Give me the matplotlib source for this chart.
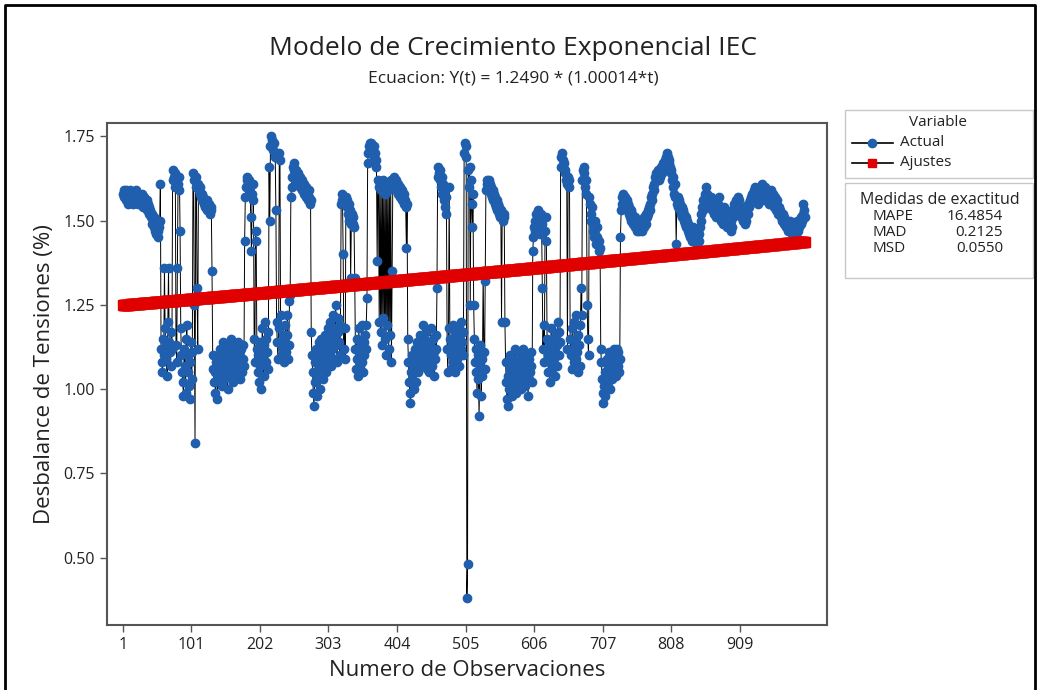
import matplotlib.pyplot as plt
import numpy as np
from matplotlib.lines import Line2D
from matplotlib.patches import Rectangle

# Voltage unbalance readings (%), in observation order
obs_001_055 = [1.58, 1.59, 1.57, 1.58, 1.56, 1.59, 1.58, 1.57, 1.55, 1.58, 1.57, 1.59, 1.56, 1.58, 1.57,
               1.55, 1.58, 1.56, 1.57, 1.59, 1.58, 1.56, 1.55, 1.57, 1.58, 1.56, 1.57, 1.55, 1.58, 1.56,
               1.54, 1.57, 1.55, 1.56, 1.54, 1.56, 1.53, 1.55, 1.54, 1.52,
               1.53, 1.51, 1.52, 1.49, 1.50, 1.48, 1.51, 1.47, 1.49, 1.46, 1.50, 1.47, 1.45, 1.48, 1.50]
obs_056_103 = [1.61, 1.12, 1.08, 1.05, 1.15, 1.10, 1.36, 1.18, 1.13, 1.09, 1.04, 1.20, 1.36, 1.14, 1.11,
               1.07, 1.17, 1.12,
               1.62, 1.65, 1.63, 1.60, 1.64, 1.13, 1.08, 1.36, 1.61, 1.59, 1.63, 1.47, 1.18, 1.10, 1.05,
               1.02, 0.98, 1.12, 1.07, 0.99, 1.15, 1.19, 1.05, 1.10, 1.01, 0.97, 1.08, 1.14, 1.03, 1.11]
obs_104_179 = [1.64, 1.62, 1.25, 0.84, 1.63, 1.60, 1.30, 1.12, 1.61, 1.59, 1.60, 1.58, 1.57, 1.58, 1.56,
               1.57, 1.55, 1.56, 1.54, 1.55, 1.53, 1.56, 1.54, 1.53, 1.55, 1.52, 1.54, 1.53, 1.35, 1.10,
               1.06, 1.02,
               1.05, 0.99, 1.08, 1.03, 0.97, 1.06, 1.10, 1.04, 1.12, 1.07, 1.01, 1.09, 1.14, 1.06, 1.03,
               1.11, 1.08, 1.13, 1.05, 1.00, 1.07, 1.12, 1.09, 1.04, 1.15, 1.10, 1.06, 1.02, 1.08, 1.13,
               1.07, 1.11, 1.04, 1.09, 1.14, 1.06, 1.10, 1.03, 1.08, 1.12, 1.05, 1.09, 1.13, 1.07]
obs_180_247 = [1.44, 1.57, 1.60, 1.62, 1.63, 1.61, 1.59, 1.62, 1.60, 1.51, 1.41, 1.58, 1.61, 1.56, 1.15,
               1.08, 1.47, 1.44, 1.12,
               1.05, 1.10, 1.02, 1.14, 1.07, 1.00, 1.11, 1.18, 1.09, 1.04, 1.13, 1.20, 1.08, 1.15, 1.11,
               1.06, 1.17,
               1.66, 1.50, 1.72, 1.75, 1.74, 1.72, 1.71, 1.73, 1.70, 1.69, 1.53, 1.20, 1.14, 1.09, 1.18,
               1.70, 1.68, 1.13, 1.22, 1.10, 1.16, 1.12,
               1.08, 1.14, 1.19, 1.11, 1.16, 1.22, 1.09, 1.13, 1.26, 1.28]
obs_248_321 = [1.57, 1.60, 1.63, 1.66, 1.65, 1.67, 1.64, 1.62, 1.65, 1.63, 1.61, 1.64, 1.62, 1.60, 1.63,
               1.61, 1.59, 1.62, 1.60, 1.58, 1.61, 1.59, 1.57, 1.60, 1.58, 1.56, 1.59, 1.57, 1.55, 1.56,
               1.17, 1.10, 1.05, 0.99, 0.95, 1.02, 1.08, 1.12, 0.98, 1.04, 1.09, 1.14, 1.06, 1.00, 1.11,
               1.15, 1.07, 1.03, 1.12, 1.08, 1.16, 1.10, 1.05, 1.13, 1.18, 1.09, 1.14, 1.20, 1.11, 1.07,
               1.16, 1.12, 1.22, 1.15, 1.09, 1.18, 1.25, 1.13, 1.08, 1.17, 1.21, 1.14, 1.10, 1.19]
obs_322_397 = [1.55, 1.58, 1.56, 1.40, 1.12, 1.18, 1.09, 1.57, 1.54, 1.56, 1.52, 1.55, 1.50, 1.53, 1.33,
               1.49, 1.52, 1.51, 1.49, 1.48, 1.33,
               1.12, 1.06, 1.15, 1.09, 1.04, 1.18, 1.11, 1.07, 1.13, 1.19, 1.08, 1.05, 1.14, 1.10, 1.16,
               1.12, 1.19, 1.27,
               1.67, 1.70, 1.72, 1.73, 1.71, 1.73, 1.72, 1.70, 1.71, 1.69, 1.72, 1.70, 1.68, 1.66, 1.38,
               1.62,
               1.60, 1.20, 1.61, 1.17, 1.59, 1.13, 1.62, 1.21, 1.60, 1.15, 1.58, 1.10, 1.61, 1.19, 1.59,
               1.12, 1.60, 1.16, 1.62, 1.08, 1.35]
obs_398_463 = [1.60, 1.62, 1.63, 1.61, 1.59, 1.62, 1.60, 1.58, 1.61, 1.59, 1.57, 1.60, 1.58, 1.56, 1.59,
               1.57, 1.55, 1.58, 1.56, 1.54, 1.42, 1.55,
               1.15, 1.08, 1.02, 0.99, 0.96, 1.05, 1.10, 1.03, 1.07, 1.00, 1.12, 1.06, 1.02, 1.09, 1.14,
               1.05, 1.11, 1.08, 1.16, 1.12, 1.07, 1.13, 1.19, 1.10, 1.15, 1.08, 1.12, 1.17, 1.11, 1.06,
               1.14, 1.09, 1.05, 1.13, 1.18, 1.10, 1.07, 1.15, 1.11, 1.04, 1.09, 1.16, 1.12, 1.30]
obs_464_534 = [1.63, 1.66, 1.64, 1.65, 1.62, 1.60, 1.63, 1.58, 1.61, 1.56, 1.59, 1.54, 1.57, 1.52, 1.12,
               1.05, 1.18, 1.60, 1.15,
               1.10, 1.06, 1.14, 1.19, 1.08, 1.12, 1.17, 1.05, 1.11, 1.15, 1.09, 1.13, 1.18, 1.07, 1.16,
               1.12, 1.20, 1.14, 1.10, 1.17,
               1.70, 1.73, 1.72, 1.69, 0.38, 0.48, 1.65, 1.60, 1.66, 1.25, 1.62, 1.55, 1.48, 1.58,
               1.25, 1.15, 1.08, 1.12, 1.05, 0.99, 1.10, 1.03, 0.92, 1.07, 1.13, 0.98, 1.04, 1.09, 1.35,
               1.11, 1.06, 1.32]
obs_535_603 = [1.59, 1.61, 1.62, 1.60, 1.62, 1.59, 1.61, 1.58, 1.60, 1.57, 1.59, 1.56, 1.58, 1.55, 1.57,
               1.54, 1.56, 1.53, 1.55, 1.52, 1.54, 1.51, 1.53, 1.20, 1.52, 1.50, 1.52, 1.51, 1.20,
               1.08, 1.02, 0.97, 1.04, 0.95, 1.00, 1.06, 1.10, 1.03, 0.98, 1.05, 1.09, 1.01, 1.07, 1.12,
               1.04, 0.99, 1.06, 1.02, 1.08, 1.11, 1.05, 1.00, 1.07, 1.03, 1.09, 1.12, 1.06, 1.01, 1.08,
               1.04, 1.10, 1.06, 0.98, 1.03, 1.09, 1.05, 1.11, 1.07, 1.02]
obs_604_676 = [1.41, 1.45, 1.48, 1.50, 1.47, 1.52, 1.49, 1.53, 1.51, 1.48, 1.46, 1.50, 1.52, 1.49, 1.30,
               1.12, 1.19, 1.08, 1.47, 1.51, 1.44, 1.15,
               1.10, 1.05, 1.14, 1.02, 1.08, 1.18, 1.12, 1.06, 1.15, 1.09, 1.04, 1.11, 1.16, 1.07, 1.13,
               1.20, 1.10, 1.17, 1.14,
               1.66, 1.69, 1.70, 1.68, 1.66, 1.67, 1.64, 1.65, 1.62, 1.61, 1.12, 1.63, 1.60, 1.62,
               1.15, 1.10, 1.06, 1.18, 1.12, 1.08, 1.20, 1.14, 1.09, 1.22, 1.11, 1.05, 1.16, 1.13, 1.07,
               1.19, 1.30, 1.22]
obs_677_732 = [1.62, 1.65, 1.66, 1.64, 1.60, 1.62, 1.58, 1.25, 1.15, 1.10, 1.57, 1.55, 1.52, 1.50, 1.54,
               1.49, 1.47, 1.45, 1.50, 1.46, 1.43, 1.48, 1.45, 1.44, 1.41, 1.44, 1.42,
               1.12, 1.08, 1.03, 0.99, 0.96, 1.01, 1.05, 0.98, 1.04, 1.09, 1.02, 1.07, 1.11, 1.05, 1.00,
               1.06, 1.10, 1.03, 1.08, 1.12, 1.06, 1.10, 1.04, 1.09, 1.12, 1.07, 1.11, 1.05, 1.09]
obs_733_821 = [1.45, 1.53, 1.55, 1.57, 1.58, 1.56, 1.57, 1.55, 1.54, 1.56, 1.53, 1.55, 1.52, 1.54, 1.51,
               1.53, 1.50, 1.52, 1.51, 1.49, 1.50, 1.48, 1.51, 1.49, 1.47, 1.50, 1.48, 1.49, 1.47, 1.50,
               1.48, 1.50, 1.47, 1.49, 1.51, 1.48, 1.50, 1.52, 1.49, 1.51, 1.53, 1.52, 1.54, 1.53,
               1.55, 1.57, 1.56, 1.58, 1.60, 1.59, 1.61, 1.63, 1.62, 1.64, 1.63, 1.65, 1.64, 1.62, 1.63,
               1.65, 1.66, 1.64, 1.66, 1.67, 1.65, 1.68, 1.67, 1.69, 1.70, 1.68, 1.69,
               1.67, 1.68, 1.66, 1.64, 1.65, 1.62, 1.63, 1.60, 1.58, 1.61, 1.57, 1.43, 1.55, 1.57, 1.54,
               1.56, 1.53, 1.55]
obs_822_926 = [1.52, 1.54, 1.51, 1.53, 1.50, 1.52, 1.49, 1.51, 1.48, 1.50, 1.47, 1.49, 1.46, 1.48, 1.45,
               1.47, 1.44, 1.46, 1.48, 1.45, 1.47, 1.44, 1.46, 1.43, 1.45, 1.47, 1.44, 1.46, 1.48,
               1.50, 1.52, 1.54, 1.53, 1.56, 1.55, 1.57, 1.58, 1.60, 1.58, 1.56, 1.57, 1.55, 1.56, 1.54,
               1.57, 1.55, 1.53,
               1.55, 1.52, 1.54, 1.56, 1.53, 1.51, 1.54, 1.52, 1.55, 1.57, 1.54, 1.52, 1.50, 1.53, 1.51,
               1.49, 1.52, 1.54, 1.51, 1.53, 1.50, 1.48, 1.51, 1.49, 1.52, 1.50, 1.47, 1.50, 1.48, 1.51,
               1.53, 1.55, 1.52, 1.54, 1.56, 1.53, 1.55, 1.57, 1.54, 1.56, 1.53, 1.51, 1.54, 1.52, 1.50,
               1.53, 1.51, 1.49, 1.52, 1.50, 1.53, 1.55, 1.52, 1.54, 1.56, 1.55, 1.57, 1.56]
obs_927_end = [1.58, 1.56, 1.59, 1.57, 1.60, 1.58, 1.56, 1.59, 1.57, 1.55, 1.58, 1.60, 1.57, 1.59, 1.61,
               1.58, 1.56, 1.59, 1.57, 1.60, 1.58, 1.56, 1.59, 1.57, 1.55, 1.58, 1.56, 1.59, 1.57, 1.55,
               1.58, 1.56, 1.54, 1.57, 1.55, 1.53, 1.56, 1.54, 1.52,
               1.54, 1.52, 1.53, 1.51, 1.52, 1.50, 1.52, 1.49, 1.51, 1.50, 1.48, 1.50, 1.49, 1.47, 1.49,
               1.48, 1.50, 1.47, 1.49, 1.48, 1.46, 1.48, 1.47, 1.49, 1.48, 1.46, 1.48, 1.50, 1.47, 1.49,
               1.48, 1.50, 1.49, 1.51, 1.50,
               1.52, 1.55, 1.53, 1.51]

# Fitted exponential growth model: Y(t) = a * b**t
coef_a = 1.2490
coef_b = 1.00014

# Accuracy measures
medidas = [("MAPE", "16.4854"), ("MAD", "0.2125"), ("MSD", "0.0550")]

x_ticks = [1, 101, 202, 303, 404, 505, 606, 707, 808, 909]
y_ticks = [0.50, 0.75, 1.00, 1.25, 1.50, 1.75]

actual = np.array(obs_001_055 + obs_056_103 + obs_104_179 + obs_180_247 + obs_248_321
                  + obs_322_397 + obs_398_463 + obs_464_534 + obs_535_603 + obs_604_676
                  + obs_677_732 + obs_733_821 + obs_822_926 + obs_927_end)
t = np.arange(1, len(actual) + 1)
ajustes = coef_a * coef_b ** t

plt.rcParams['font.family'] = ['Open Sans', 'DejaVu Sans']

blue = '#1f5fae'
red = '#e00000'
text_col = '#222222'

fig = plt.figure(figsize=(10.39, 6.9), dpi=100)
ax = fig.add_axes([0.103, 0.094, 0.693, 0.728])

ax.plot(t, actual, color='black', linewidth=0.7, marker='o', markersize=6,
        markerfacecolor=blue, markeredgecolor=blue, zorder=2)
ax.plot(t, ajustes, color='black', linewidth=0.8, marker='s', markersize=7.5,
        markerfacecolor=red, markeredgecolor=red, zorder=3)

ax.set_xlim(-22.5, 1037)
ax.set_ylim(0.30, 1.79)
ax.set_xticks(x_ticks)
ax.set_yticks(y_ticks)
ax.set_yticklabels([f"{v:.2f}" for v in y_ticks])
ax.tick_params(axis='both', direction='out', length=5, width=1, labelsize=11.5,
               colors='#555555', labelcolor=text_col)
for side in ['left', 'right', 'top', 'bottom']:
    ax.spines[side].set_color('#555555')
    ax.spines[side].set_linewidth(1.5)

ax.set_xlabel("Numero de Observaciones", fontsize=16, labelpad=5, color=text_col)
ax.set_ylabel("Desbalance de Tensiones (%)", fontsize=16, labelpad=6, color=text_col)

fig.text(0.494, 0.930, "Modelo de Crecimiento Exponencial IEC", ha='center', va='center',
         fontsize=19, color=text_col)
fig.text(0.494, 0.886, "Ecuacion: Y(t) = 1.2490 * (1.00014*t)", ha='center', va='center',
         fontsize=12.5, color=text_col)

# Legend box with the two series
W, H = 1039, 690
def fx(px):
    return px / W
def fy(py):
    return 1 - py / H

fig.patches.append(Rectangle((fx(845), fy(178)), fx(1033) - fx(845), fy(110) - fy(178),
                             transform=fig.transFigure, facecolor='white', edgecolor='#c8c8c8', lw=1))
fig.text(fx(938), fy(122), "Variable", ha='center', va='center', fontsize=11, color=text_col)
for row_y, name, mk, col in [(143, "Actual", 'o', blue), (163, "Ajustes", 's', red)]:
    fig.lines.append(Line2D([fx(852), fx(893)], [fy(row_y), fy(row_y)], transform=fig.transFigure,
                            color='black', lw=1.2))
    fig.lines.append(Line2D([fx(872)], [fy(row_y)], transform=fig.transFigure, marker=mk,
                            markersize=6, markerfacecolor=col, markeredgecolor=col, lw=0))
    fig.text(fx(900), fy(row_y), name, ha='left', va='center', fontsize=11, color=text_col)

# Accuracy measures box
fig.patches.append(Rectangle((fx(845), fy(278)), fx(1033) - fx(845), fy(183) - fy(278),
                             transform=fig.transFigure, facecolor='white', edgecolor='#c8c8c8', lw=1))
fig.text(fx(940), fy(200), "Medidas de exactitud", ha='center', va='center', fontsize=11.5,
         color=text_col)
for i, (name, val) in enumerate(medidas):
    yy = fy(217 + i * 16)
    fig.text(fx(872), yy, name, ha='left', va='center', fontsize=11, color=text_col)
    fig.text(fx(1003), yy, val, ha='right', va='center', fontsize=11, color=text_col)

# Outer frame
fig.lines.append(Line2D([fx(5), fx(5), fx(1035), fx(1035)], [0, fy(5), fy(5), 0],
                        transform=fig.transFigure, color='black', lw=2))

fig.savefig("out.png", dpi=100, facecolor='white')
